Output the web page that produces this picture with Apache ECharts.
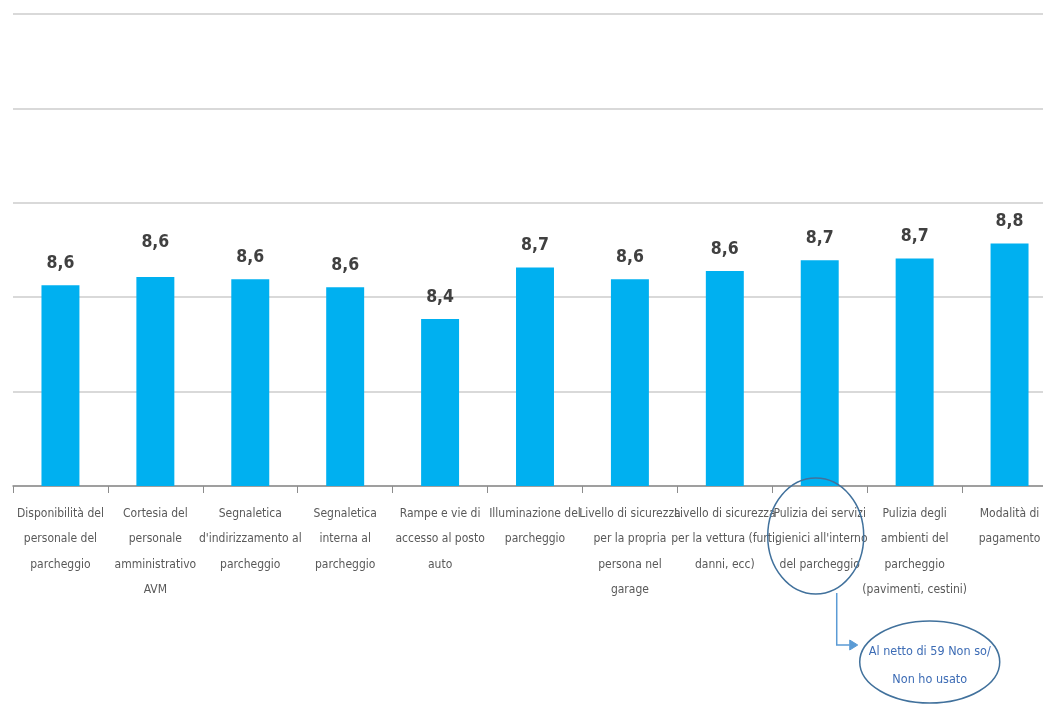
<!DOCTYPE html>
<html>
<head>
<meta charset="utf-8">
<script src="https://cdn.jsdelivr.net/npm/echarts@6/dist/echarts.min.js"></script>
<style>
html,body{margin:0;padding:0;background:#fff;}
#c{width:1043px;height:705px;}
</style>
</head>
<body>
<div id="c"></div>
<script>
const categories = [
  "Disponibilità del\npersonale del\nparcheggio",
  "Cortesia del\npersonale\namministrativo\nAVM",
  "Segnaletica\nd'indirizzamento al\nparcheggio",
  "Segnaletica\ninterna al\nparcheggio",
  "Rampe e vie di\naccesso al posto\nauto",
  "Illuminazione del\nparcheggio",
  "Livello di sicurezza\nper la propria\npersona nel\ngarage",
  "Livello di sicurezza\nper la vettura (furti,\ndanni, ecc)",
  "Pulizia dei servizi\nigienici all'interno\ndel parcheggio",
  "Pulizia degli\nambienti del\nparcheggio\n(pavimenti, cestini)",
  "Modalità di\npagamento"
];
const values = [8.563, 8.607, 8.595, 8.553, 8.384, 8.657, 8.595, 8.639, 8.696, 8.705, 8.784];
const annotationText = "Al netto di 59 Non so/\nNon ho usato";
const annotatedIndex = 8;

// pick the narrowest installed font
const ctx = document.createElement('canvas').getContext('2d');
function width(font, s) { ctx.font = font; return ctx.measureText(s).width; }
const probe = "Disponibilità del parcheggio";
const candidates = ['Liberation Sans Narrow', 'DejaVu Sans Condensed', 'Roboto Condensed', 'Open Sans Condensed', 'Liberation Sans'];
let FONTNAME = 'sans-serif';
for (const f of candidates) {
  const a = width("100px monospace", probe), b = width("100px '" + f + "', monospace", probe);
  if (Math.abs(a - b) > 0.5) { FONTNAME = f; break; }
}
const FONT = "'" + FONTNAME + "', sans-serif";
function sizeFor(text, px, weight, lo, hi) {
  const w = width((weight || '') + " 100px " + FONT, text);
  return Math.max(lo, Math.min(hi, Math.round(px * 100 / w * 2) / 2));
}
const catSize = sizeFor("Disponibilità del", 88, '', 10, 16);
const valSize = sizeFor("8,6", 28, 'bold', 17, 22);
const noteSize = sizeFor("Al netto di 59 Non so/", 122, '', 11, 17);

const chart = echarts.init(document.getElementById('c'), null, {renderer: 'canvas'});
const fmt = v => v.toFixed(1).replace('.', ',');

chart.setOption({
  animation: false,
  backgroundColor: '#ffffff',
  grid: {left: 13, top: 14, bottom: 219, right: -14, containLabel: false, outerBoundsMode: 'none'},
  xAxis: {
    type: 'category',
    data: categories,
    boundaryGap: true,
    axisLine: {show: true, lineStyle: {color: '#8c8c8c', width: 1.5}},
    axisTick: {show: true, alignWithLabel: false, length: 7, lineStyle: {color: '#8c8c8c', width: 1}},
    axisLabel: {
      interval: 0, margin: 15, color: '#595959', fontFamily: FONT, fontSize: catSize,
      lineHeight: 25.5, align: 'center', verticalAlign: 'top', hideOverlap: false
    }
  },
  yAxis: {
    type: 'value', min: 7.5, max: 10, interval: 0.5,
    axisLabel: {show: false}, axisLine: {show: false}, axisTick: {show: false},
    splitLine: {show: true, lineStyle: {color: '#d9d9d9', width: 2}}
  },
  series: [{
    type: 'bar',
    barWidth: '40%',
    itemStyle: {color: '#00b0f0'},
    label: {
      show: true, position: 'top', distance: 13,
      color: '#404040', fontFamily: FONT, fontSize: valSize, fontWeight: 'bold',
      formatter: p => fmt(p.value)
    },
    data: values.map((v, i) => i === 1 ? {value: v, label: {distance: 26}} : v)
  }]
});

// annotation anchored to the annotated category label
const cx = chart.convertToPixel({xAxisIndex: 0}, annotatedIndex) - 4;
const stroke = '#41719c';
chart.setOption({
  graphic: [
    {type: 'ellipse', shape: {cx: cx, cy: 536, rx: 48, ry: 58},
     style: {fill: 'none', stroke: stroke, lineWidth: 1.5}, z: 10},
    {type: 'polyline', shape: {points: [[cx + 21, 593], [cx + 21, 645], [cx + 34, 645]]},
     style: {fill: 'none', stroke: '#5b9bd5', lineWidth: 1.5}, z: 10},
    {type: 'polygon', shape: {points: [[cx + 34, 640], [cx + 42, 645], [cx + 34, 650]]},
     style: {fill: '#5b9bd5', stroke: '#5b9bd5'}, z: 10},
    {type: 'ellipse', shape: {cx: cx + 114, cy: 662, rx: 70, ry: 41},
     style: {fill: '#ffffff', stroke: stroke, lineWidth: 1.5}, z: 10},
    {type: 'text', x: cx + 114, y: 666, z: 11,
     style: {text: annotationText, fill: '#3d6cb5', font: noteSize + 'px ' + FONT,
             align: 'center', verticalAlign: 'middle', lineHeight: 28}}
  ]
});
</script>
</body>
</html>
